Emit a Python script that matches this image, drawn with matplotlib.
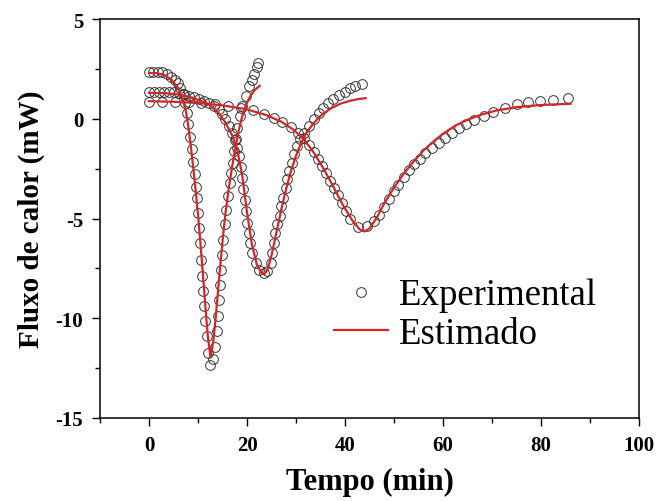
import matplotlib
matplotlib.use('Agg')
import matplotlib.pyplot as plt
from matplotlib.ticker import MultipleLocator

plt.rcParams['axes.unicode_minus'] = False

# experimental points, three runs (time in min, heat flow in mW)
t_exp1 = [0.0, 0.9, 1.8, 2.7, 3.6, 4.5, 5.3, 5.9, 6.4, 6.85, 7.3, 7.7, 8.05, 8.4, 8.75,
          9.05, 9.3, 9.55, 9.8, 10.05, 10.25, 10.45, 10.65, 10.85, 11.05, 11.3, 11.5, 11.75,
          12.0, 12.4, 13.0, 13.55, 13.9, 14.1, 14.25, 14.45, 14.6, 14.8, 15.15, 15.45, 15.8,
          16.1, 16.45, 16.75, 17.05, 17.35, 17.7, 18.05, 18.5, 19.0, 19.7, 20.4, 21.0, 21.5,
          22.0, 22.3]
q_exp1 = [2.33, 2.35, 2.36, 2.32, 2.24, 2.10, 1.95, 1.78, 1.55, 1.22, 0.80, 0.30, -0.28,
          -0.89, -1.53, -2.15, -2.79, -3.40, -3.96, -4.71, -5.47, -6.22, -7.06, -7.90, -8.65,
          -9.41, -10.16, -10.91, -11.75, -12.35, -12.05, -11.42, -10.66, -9.91, -9.07, -8.32,
          -7.56, -6.81, -6.06, -5.30, -4.55, -3.88, -3.21, -2.70, -2.20, -1.62, -1.03, -0.44,
          0.14, 0.64, 1.15, 1.62, 1.95, 2.24, 2.57, 2.80]

t_exp2 = [0.0, 1.0, 2.0, 3.05, 4.1, 5.1, 6.1, 7.1, 8.15, 9.2, 10.2, 11.2, 12.2, 13.25, 14.3,
          14.95, 15.6, 16.3, 17.0, 17.6, 18.0, 18.35, 18.7, 19.0, 19.25, 19.5, 19.75, 20.05,
          20.4, 20.7, 21.07, 21.75, 22.4, 23.4, 24.1, 24.8, 25.15, 25.5, 25.8, 26.2, 26.7,
          27.0, 27.4, 27.9, 28.2, 28.6, 29.1, 29.6, 30.2, 30.9, 31.6, 32.6, 33.6, 34.6, 35.5,
          36.5, 37.6, 38.7, 39.9, 41.0, 42.1, 43.5]
q_exp2 = [1.32, 1.35, 1.35, 1.35, 1.33, 1.32, 1.28, 1.23, 1.15, 1.07, 0.98, 0.89, 0.80, 0.64,
          0.48, 0.23, -0.03, -0.36, -0.69, -1.05, -1.45, -1.85, -2.40, -2.95, -3.54, -4.05,
          -4.63, -5.22, -5.72, -6.22, -6.72, -7.23, -7.56, -7.73, -7.65, -7.23, -6.72, -6.22,
          -5.72, -5.30, -4.88, -4.38, -3.96, -3.46, -3.04, -2.62, -2.20, -1.78, -1.37, -1.03,
          -0.69, -0.36, -0.03, 0.31, 0.56, 0.78, 0.98, 1.18, 1.35, 1.52, 1.62, 1.73]

t_exp3 = [0.0, 2.7, 5.4, 8.1, 10.7, 13.4, 16.2, 18.8, 21.3, 23.5, 25.5, 27.2, 28.9, 30.5,
          31.7, 32.7, 33.6, 34.5, 35.4, 36.2, 37.0, 37.7, 38.5, 39.3, 40.2, 41.1, 42.6, 44.5,
          45.9, 46.9, 47.9, 48.9, 49.9, 50.9, 52.0, 53.0, 54.0, 55.4, 56.4, 57.8, 59.1, 60.5,
          61.8, 63.2, 64.6, 66.3, 68.3, 70.3, 72.7, 75.1, 77.4, 79.8, 82.5, 85.6]
q_exp3 = [0.86, 0.86, 0.85, 0.82, 0.78, 0.72, 0.64, 0.55, 0.42, 0.25, 0.06, -0.17, -0.42,
          -0.69, -0.98, -1.33, -1.68, -2.02, -2.37, -2.72, -3.10, -3.46, -3.82, -4.20, -4.60,
          -5.05, -5.45, -5.39, -5.13, -4.80, -4.42, -4.00, -3.62, -3.30, -2.92, -2.58, -2.28,
          -2.00, -1.74, -1.45, -1.20, -0.94, -0.69, -0.44, -0.26, -0.05, 0.14, 0.34, 0.55,
          0.72, 0.85, 0.90, 0.95, 1.02]

# fitted (estimated) curves
t_fit1 = [0.0, 1.5, 3.0, 4.5, 5.8, 6.8, 7.5, 8.0, 8.5, 9.0, 9.5, 10.0, 10.5, 11.0, 11.5, 12.0,
          12.55, 13.1, 13.6, 14.1, 14.6, 15.1, 15.6, 16.2, 16.9, 17.6, 18.3, 19.0, 19.8, 20.7,
          21.6, 22.6]
q_fit1 = [2.30, 2.29, 2.20, 1.98, 1.60, 1.05, 0.40, -0.35, -1.30, -2.40, -3.55, -4.80, -6.25,
          -7.80, -9.40, -10.90, -11.95, -11.20, -10.00, -8.60, -7.20, -5.90, -4.75, -3.60,
          -2.50, -1.50, -0.60, 0.10, 0.70, 1.15, 1.45, 1.65]

t_fit2 = [0.0, 3.0, 6.0, 9.0, 12.0, 14.0, 15.5, 17.0, 18.0, 19.0, 20.0, 21.0, 22.0, 23.0, 23.5,
          24.2, 25.0, 26.0, 27.0, 28.0, 29.0, 30.0, 31.0, 32.0, 33.5, 35.0, 37.0, 39.0, 41.0,
          43.0, 44.2]
q_fit2 = [1.30, 1.29, 1.22, 1.05, 0.75, 0.35, -0.15, -0.85, -1.55, -2.80, -4.70, -6.30, -7.30,
          -7.75, -7.80, -7.55, -6.85, -5.70, -4.55, -3.50, -2.60, -1.85, -1.25, -0.75, -0.25,
          0.15, 0.50, 0.75, 0.90, 1.00, 1.03]

t_fit3 = [0.0, 5.0, 10.0, 15.0, 20.0, 24.0, 27.0, 29.5, 31.5, 33.5, 35.5, 37.5, 39.5, 41.5,
          43.0, 44.0, 45.0, 46.5, 48.0, 50.0, 52.0, 54.0, 56.0, 58.0, 60.0, 62.5, 65.0, 68.0,
          71.0, 75.0, 80.0, 86.0]
q_fit3 = [0.88, 0.85, 0.79, 0.67, 0.47, 0.18, -0.15, -0.55, -1.00, -1.65, -2.45, -3.35, -4.30,
          -5.10, -5.55, -5.65, -5.50, -4.95, -4.25, -3.45, -2.75, -2.15, -1.60, -1.15, -0.75,
          -0.35, -0.05, 0.22, 0.42, 0.58, 0.69, 0.75]

serif = ['Liberation Serif', 'DejaVu Serif']
red = '#d42626'

fig = plt.figure(figsize=(6.57, 5.02), dpi=100)
ax = fig.add_axes([100 / 657, 83 / 502, 539 / 657, 399 / 502])

exp_style = dict(linestyle='none', marker='o', markersize=7.0, markerfacecolor='none',
                 markeredgecolor='#333333', markeredgewidth=0.7)
for t, q in [(t_exp1, q_exp1), (t_exp2, q_exp2), (t_exp3, q_exp3)]:
    ax.plot(t, q, **exp_style)

for t, q in [(t_fit1, q_fit1), (t_fit2, q_fit2), (t_fit3, q_fit3)]:
    ax.plot(t, q, color=red, linewidth=1.6)

# legend entries only
h_exp, = ax.plot([], [], **exp_style)
h_fit, = ax.plot([], [], color=red, linewidth=1.6)
ax.legend([h_exp, h_fit], ['Experimental', 'Estimado'], loc='center left',
          bbox_to_anchor=(0.435, 0.26), frameon=False, numpoints=1,
          prop={'family': serif, 'size': 26.5}, handlelength=1.45,
          handletextpad=0.3, labelspacing=0.1, borderpad=0, borderaxespad=0)

ax.set_xlim(-10, 100)
ax.set_ylim(-15, 5)
ax.xaxis.set_major_locator(MultipleLocator(20))
ax.xaxis.set_minor_locator(MultipleLocator(10))
ax.yaxis.set_major_locator(MultipleLocator(5))
ax.yaxis.set_minor_locator(MultipleLocator(2.5))
ax.tick_params(which='both', direction='out', top=False, right=False, width=1.0)
ax.tick_params(which='major', length=6, pad=6)
ax.tick_params(which='minor', length=3.5)
for lab in ax.get_xticklabels() + ax.get_yticklabels():
    lab.set_fontfamily(serif)
    lab.set_fontweight('bold')
    lab.set_fontsize(15)
for sp in ax.spines.values():
    sp.set_linewidth(1.1)

ax.set_xlabel('Tempo (min)', family=serif, fontweight='bold', fontsize=22, labelpad=9)
ax.set_ylabel('Fluxo de calor (mW)', family=serif, fontweight='bold', fontsize=21, labelpad=8)

fig.savefig('out.png', dpi=100)
